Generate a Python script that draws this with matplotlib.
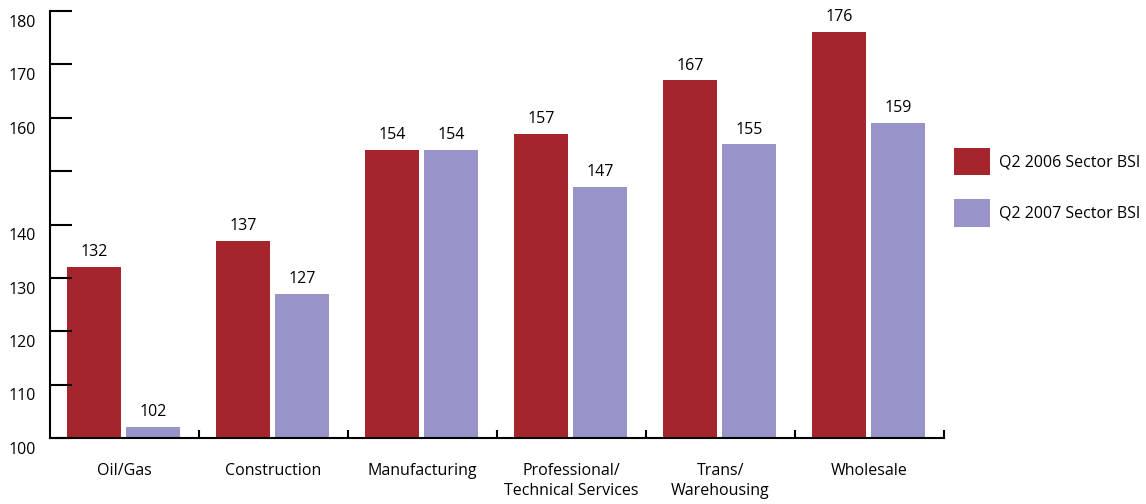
import numpy as np
import matplotlib.pyplot as plt
from matplotlib.transforms import ScaledTranslation

plt.rcParams['font.family'] = ['Open Sans', 'DejaVu Sans']

sectors = ['Oil/Gas', 'Construction', 'Manufacturing', 'Professional/\nTechnical Services',
           'Trans/\nWarehousing', 'Wholesale']
bsi_2006 = [132, 137, 154, 157, 167, 176]
bsi_2007 = [102, 127, 154, 147, 155, 159]
ytick_vals = [100, 110, 120, 130, 140, 150, 160, 170, 180]
ytick_labels = ['100', '110', '120', '130', '140', '', '160', '170', '180']

red = '#a4262c'
blue = '#9893c8'

fig = plt.figure(figsize=(11.46, 5.04), dpi=100)
ax = fig.add_axes([0.0436, 0.131, 0.78, 0.847])

x = np.arange(len(sectors))
w = 0.362
b1 = ax.bar(x + 0.295, np.array(bsi_2006) - 100, w, bottom=100, color=red, label='Q2 2006 Sector BSI')
b2 = ax.bar(x + 0.691, np.array(bsi_2007) - 100, w, bottom=100, color=blue, label='Q2 2007 Sector BSI')

for bars, vals in [(b1, bsi_2006), (b2, bsi_2007)]:
    for r, v in zip(bars, vals):
        ax.text(r.get_x() + r.get_width() / 2, v + 1.3, str(v), ha='center', va='bottom', fontsize=11.5)

ax.set_xlim(0, 6)
ax.set_ylim(100, 180)
ax.set_yticks(ytick_vals)
ax.set_yticklabels(ytick_labels, fontsize=11.5)
ax.tick_params(axis='y', direction='in', length=16, width=1.5, pad=10)
# labels sit a bit below their tick marks
off = ScaledTranslation(0, -7 / 72, fig.dpi_scale_trans)
for lab in ax.get_yticklabels():
    lab.set_transform(lab.get_transform() + off)

# group separators on the x axis
ax.set_xticks(np.arange(1, 7))
ax.set_xticklabels([''] * 6)
ax.tick_params(axis='x', which='major', direction='in', length=6, width=1.5)
ax.set_xticks(x + 0.5, minor=True)
ax.set_xticklabels(sectors, minor=True, fontsize=11.5, linespacing=1.35)
ax.tick_params(axis='x', which='minor', length=0, pad=18)

for s in ['top', 'right']:
    ax.spines[s].set_visible(False)
for s in ['left', 'bottom']:
    ax.spines[s].set_linewidth(1.5)

ax.legend(loc='upper left', bbox_to_anchor=(1.011, 0.679), frameon=False, fontsize=11.5,
          borderpad=0, borderaxespad=0,
          handlelength=2.3, handleheight=2.25, labelspacing=1.5, handletextpad=0.55)

fig.savefig('out.png', dpi=100)
